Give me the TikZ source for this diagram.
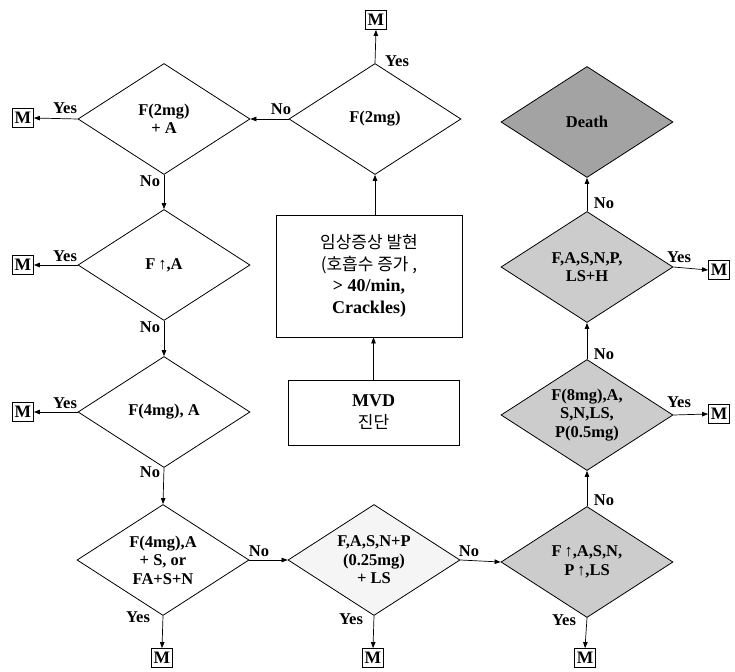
\documentclass[tikz,border=0pt]{standalone}
\usepackage{fontspec}
\setmainfont{Liberation Serif}
\newfontfamily\kr{Noto Sans CJK KR}
\usetikzlibrary{shapes.geometric,arrows.meta}
\begin{document}
\begin{tikzpicture}[x=1pt,y=-1pt,
  font=\fontsize{16.5}{18.5}\selectfont\bfseries,
  dia/.style={draw,line width=0.8pt,shape=diamond,shape aspect=1.536,minimum width=172pt,minimum height=111pt,inner sep=0pt,align=center},
  mbox/.style={draw,line width=0.8pt,minimum width=21pt,minimum height=19pt,inner sep=0pt,font=\fontsize{17.5}{18}\selectfont\bfseries},
  rbox/.style={draw,line width=0.8pt,align=center,inner sep=0pt},
  arr/.style={-{Triangle[length=6pt,width=4.5pt]},line width=0.7pt},
  lab/.style={inner sep=0pt,font=\fontsize{16.5}{18}\selectfont\bfseries}
]
\useasboundingbox (0,0) rectangle (735,671);
\definecolor{lightfill}{gray}{0.96}
\definecolor{midfill}{gray}{0.80}
\definecolor{darkfill}{gray}{0.64}

% left column
\node[dia] (d1) at (164,119) {F(2mg)\\+ A};
\node[dia] (d2) at (164,265) {F\,↑,A};
\node[dia] (d3) at (164,412) {F(4mg), A};
\node[dia] (d4) at (163,560) {F(4mg),A\\+ S, or\\FA+S+N};
% middle column
\node[dia] (dt) at (375,119) {F(2mg)};
\node[dia,fill=lightfill] (dm) at (374,560) {F,A,S,N+P\\(0.25mg)\\+ LS};
\node[rbox,minimum width=186pt,minimum height=122pt,font=\fontsize{18}{21.7}\selectfont\bfseries] (b1) at (369,276)
  {{\kr\fontsize{17}{21.7}\selectfont\mdseries 임상증상 발현}\\
   {\kr\fontsize{17}{21.7}\selectfont\mdseries (호흡수 증가 ,}\\
   > 40/min,\\
   Crackles)};
\node[rbox,minimum width=171pt,minimum height=65pt,font=\fontsize{18}{22}\selectfont\bfseries] (mvd) at (373.5,412.5)
  {MVD\\{\kr\fontsize{17}{22}\selectfont\mdseries 진단}};
% right column
\node[dia,fill=midfill] (r1) at (587,562) {F\,↑,A,S,N,\\P\,↑,LS};
\node[dia,fill=midfill] (r2) at (587,415) {F(8mg),A,\\S,N,LS,\\P(0.5mg)};
\node[dia,fill=midfill] (r3) at (587,267) {F,A,S,N,P,\\LS+H};
\node[dia,fill=darkfill] (death) at (587,122) {Death};

% M boxes
\node[mbox] (mt) at (376,20) {M};
\node[mbox] (m1) at (23,118) {M};
\node[mbox] (m2) at (23,265) {M};
\node[mbox] (m3) at (23,412) {M};
\node[mbox] (m4) at (162,658) {M};
\node[mbox] (m5) at (373,658) {M};
\node[mbox] (m6) at (585,658) {M};
\node[mbox] (m7) at (719,270) {M};
\node[mbox] (m8) at (719,414) {M};

% connectors
\draw[arr] (dt.north) -- (mt.south);
\draw[arr] (dt.west) -- (d1.east);
\draw[arr] (d1.west) -- (m1.east);
\draw[arr] (d1.south) -- (d2.north);
\draw[arr] (d2.west) -- (m2.east);
\draw[arr] (d2.south) -- (d3.north);
\draw[arr] (d3.west) -- (m3.east);
\draw[arr] (d3.south) -- (d4.north);
\draw[arr] (d4.east) -- (dm.west);
\draw[arr] (d4.south) -- (m4.north);
\draw[arr] (dm.east) -- (r1.west);
\draw[arr] (dm.south) -- (m5.north);
\draw[arr] (r1.south) -- (m6.north);
\draw[arr] (r1.north) -- (r2.south);
\draw[arr] (r2.east) -- (m8.west);
\draw[arr] (r2.north) -- (r3.south);
\draw[arr] (r3.east) -- (m7.west);
\draw[arr] (r3.north) -- (death.south);
\draw[arr] (b1.north -| dt.south) -- (dt.south);
\draw[arr] (mvd.north) -- (mvd.north |- b1.south);

% labels
\node[lab] (l1) at (397,61) {Yes};
\node[lab] (l2) at (281,109) {No};
\node[lab] (l3) at (65,108) {Yes};
\node[lab] (l4) at (150,181) {No};
\node[lab] (l5) at (65,256) {Yes};
\node[lab] (l6) at (150,327) {No};
\node[lab] (l7) at (65,403) {Yes};
\node[lab] (l8) at (150,472) {No};
\node[lab] (l9) at (259,551) {No};
\node[lab] (l10) at (138,617) {Yes};
\node[lab] (l11) at (469,551) {No};
\node[lab] (l12) at (351,619) {Yes};
\node[lab] (l13) at (564,620) {Yes};
\node[lab] (l14) at (604,500) {No};
\node[lab] (l15) at (679,402) {Yes};
\node[lab] (l16) at (604,354) {No};
\node[lab] (l17) at (679,257) {Yes};
\node[lab] (l18) at (604,203) {No};
\end{tikzpicture}
\end{document}
